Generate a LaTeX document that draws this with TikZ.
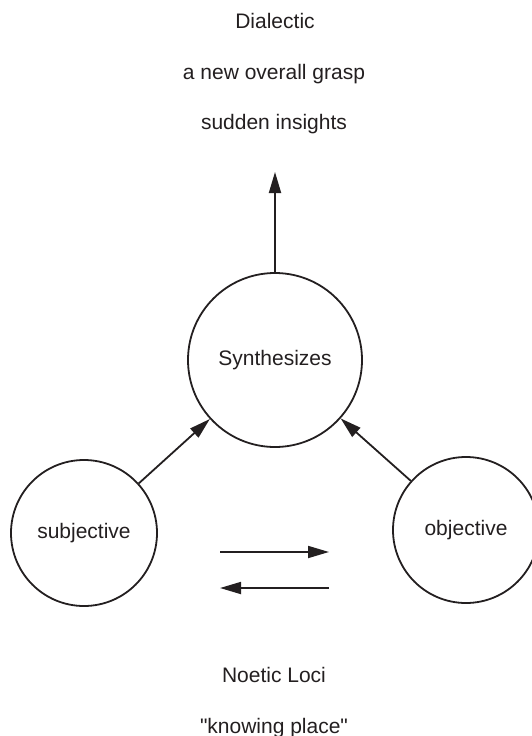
\documentclass[tikz,border=0pt]{standalone}
\usepackage{fontspec}
\setmainfont{Liberation Sans}
\usetikzlibrary{arrows.meta}
\definecolor{ink}{RGB}{35,31,32}
\begin{document}
\begin{tikzpicture}[x=1pt,y=-1pt,
  every node/.style={text=ink,font=\fontsize{21}{25}\selectfont},
  ring/.style={circle,draw=ink,line width=1.8pt,inner sep=0pt},
  caption/.style={anchor=base,inner sep=0pt},
  arr/.style={draw=ink,line width=1.8pt,-{Triangle[length=21pt,width=12pt]}}]
  \clip (0,0) rectangle (532,736);

  % heading above the synthesis
  \node[caption] (dia) at (275,28) {Dialectic};
  \node[caption] (grasp) at (274,79) {a new overall grasp};
  \node[caption] (ins) at (274,129) {sudden insights};

  % the three circles
  \node[ring,minimum size=174pt] (syn) at (275,360) {Synthesizes};
  \node[ring,minimum size=146pt] (subj) at (84,533) {subjective};
  \node[ring,minimum size=146pt] (obj) at (466,530) {objective};

  % arrow rising from the synthesis
  \coordinate (up) at (275,172);
  \draw[arr] (syn.north) -- (up);

  % both poles feed the synthesis
  \draw[arr] (subj) -- (syn);
  \draw[arr] (obj) -- (syn);

  % exchange between the poles
  \coordinate (fa) at (220,552);
  \coordinate (fb) at (329,552);
  \coordinate (ba) at (329,588);
  \coordinate (bb) at (220,588);
  \draw[arr] (fa) -- (fb);
  \draw[arr] (ba) -- (bb);

  % caption below
  \node[caption] (noe) at (274,682) {Noetic Loci};
  \node[caption] (know) at (274,733) {\textquotedbl knowing place\textquotedbl};
\end{tikzpicture}
\end{document}
